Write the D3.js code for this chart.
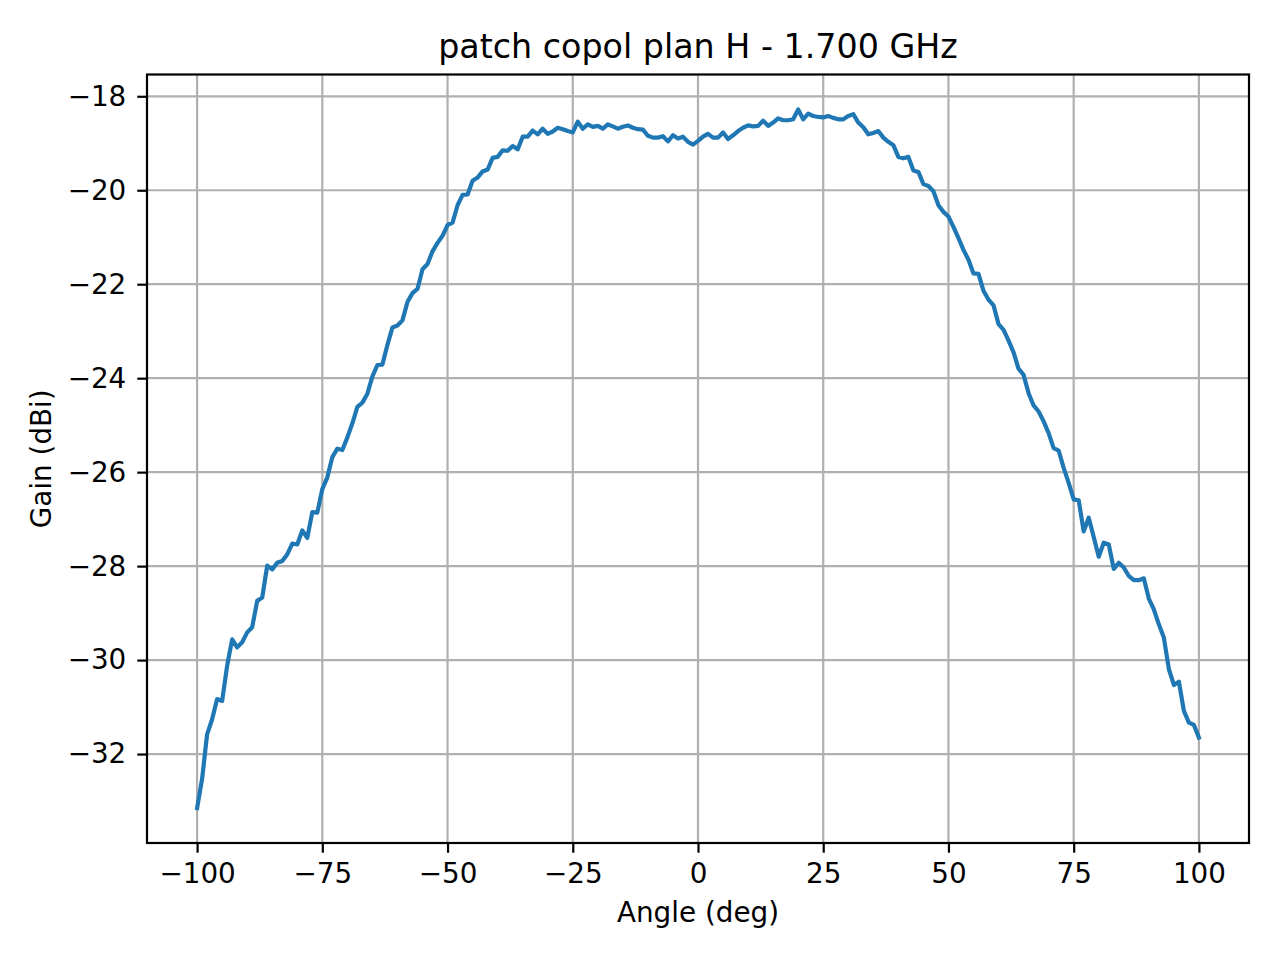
<!DOCTYPE html>
<html>
<head>
<meta charset="utf-8">
<script src="https://cdn.jsdelivr.net/npm/d3@7"></script>
<style>
  body { margin: 0; background: #fff; }
  svg { display: block; font-family: "DejaVu Sans", sans-serif; }
</style>
</head>
<body>
<div id="chart"></div>
<script>
// angle in degrees, one sample per degree
const angles = d3.range(-100, 101);

// measured gain (dBi), -100 .. 100 deg
const gain = [
  -33.15, -32.53, -31.58, -31.26, -30.83, -30.87, -30.12, -29.56, -29.73, -29.62,
  -29.41, -29.30, -28.74, -28.67, -27.99, -28.07, -27.93, -27.89, -27.75, -27.52,
  -27.54, -27.24, -27.40, -26.85, -26.86, -26.36, -26.11, -25.68, -25.50, -25.53,
  -25.26, -24.96, -24.61, -24.52, -24.33, -23.96, -23.72, -23.71, -23.29, -22.92,
  -22.88, -22.77, -22.38, -22.19, -22.10, -21.68, -21.57, -21.30, -21.12, -20.97,
  -20.74, -20.69, -20.32, -20.10, -20.09, -19.80, -19.73, -19.60, -19.56, -19.31,
  -19.29, -19.15, -19.16, -19.06, -19.13, -18.86, -18.86, -18.73, -18.81, -18.69,
  -18.80, -18.75, -18.67, -18.70, -18.74, -18.77, -18.54, -18.69, -18.60, -18.65,
  -18.63, -18.69, -18.60, -18.64, -18.69, -18.65, -18.62, -18.67, -18.70, -18.71,
  -18.84, -18.88, -18.88, -18.85, -18.96, -18.83, -18.90, -18.86, -18.97, -19.03,
  -18.95,
  -18.86, -18.80, -18.88, -18.88, -18.77, -18.91, -18.83, -18.74, -18.67, -18.62,
  -18.64, -18.63, -18.52, -18.63, -18.56, -18.47, -18.51, -18.51, -18.49, -18.28,
  -18.49, -18.37, -18.42, -18.44, -18.45, -18.42, -18.46, -18.49, -18.49, -18.42,
  -18.38, -18.56, -18.66, -18.81, -18.78, -18.74, -18.88, -18.97, -19.04, -19.29,
  -19.32, -19.29, -19.58, -19.61, -19.87, -19.91, -20.02, -20.32, -20.46, -20.56,
  -20.78, -21.02, -21.27, -21.48, -21.77, -21.78, -22.14, -22.33, -22.45, -22.85,
  -22.97, -23.20, -23.45, -23.80, -23.93, -24.32, -24.58, -24.71, -24.92, -25.17,
  -25.49, -25.54, -25.91, -26.23, -26.58, -26.60, -27.26, -26.97, -27.38, -27.80,
  -27.50, -27.54, -28.06, -27.93, -28.03, -28.21, -28.30, -28.30, -28.26, -28.69,
  -28.92, -29.24, -29.52, -30.19, -30.53, -30.46, -31.08, -31.33, -31.38, -31.65
];

const xTicks = [-100, -75, -50, -25, 0, 25, 50, 75, 100];
const yTicks = [-32, -30, -28, -26, -24, -22, -20, -18];

const title = "patch copol plan H - 1.700 GHz";
const xLabel = "Angle (deg)";
const yLabel = "Gain (dBi)";

const data = angles.map((a, i) => ({ angle: a, gain: gain[i] }));

const width = 1280,
  height = 960;
const margin = { top: 74.5, right: 31, bottom: 117, left: 147 };
const innerW = width - margin.left - margin.right;
const innerH = height - margin.top - margin.bottom;

const fontSize = 27.8;
const tickLen = 9.7;

// matplotlib-style 5% padding around data extent
function padded(extent) {
  const pad = (extent[1] - extent[0]) * 0.05;
  return [extent[0] - pad, extent[1] + pad];
}

const x = d3
  .scaleLinear()
  .domain(padded(d3.extent(angles)))
  .range([0, innerW]);
const y = d3
  .scaleLinear()
  .domain(padded(d3.extent(gain)))
  .range([innerH, 0]);

const svg = d3
  .select("#chart")
  .append("svg")
  .attr("width", width)
  .attr("height", height)
  .attr("viewBox", [0, 0, width, height]);

const g = svg
  .append("g")
  .attr("transform", `translate(${margin.left},${margin.top})`);

// grid
g.append("g")
  .attr("class", "grid")
  .call((grid) =>
    grid
      .selectAll("line.gx")
      .data(xTicks)
      .join("line")
      .attr("class", "gx")
      .attr("x1", (d) => x(d))
      .attr("x2", (d) => x(d))
      .attr("y1", 0)
      .attr("y2", innerH)
  )
  .call((grid) =>
    grid
      .selectAll("line.gy")
      .data(yTicks)
      .join("line")
      .attr("class", "gy")
      .attr("x1", 0)
      .attr("x2", innerW)
      .attr("y1", (d) => y(d))
      .attr("y2", (d) => y(d))
  )
  .selectAll("line")
  .attr("stroke", "#b0b0b0")
  .attr("stroke-width", 2.2);

// data line
const line = d3
  .line()
  .x((d) => x(d.angle))
  .y((d) => y(d.gain));

g.append("path")
  .datum(data)
  .attr("fill", "none")
  .attr("stroke", "#1f77b4")
  .attr("stroke-width", 4.2)
  .attr("stroke-linejoin", "round")
  .attr("stroke-linecap", "square")
  .attr("d", line);

// axes
const fmt = d3.format("d");

const xAxis = g
  .append("g")
  .attr("transform", `translate(0,${innerH})`)
  .call(
    d3
      .axisBottom(x)
      .tickValues(xTicks)
      .tickFormat(fmt)
      .tickSize(tickLen)
      .tickPadding(10.5)
  );

const yAxis = g
  .append("g")
  .call(
    d3
      .axisLeft(y)
      .tickValues(yTicks)
      .tickFormat(fmt)
      .tickSize(tickLen)
      .tickPadding(11)
  );

[xAxis, yAxis].forEach((ax) => {
  ax.select(".domain").remove();
  ax.selectAll(".tick line").attr("stroke", "#000").attr("stroke-width", 2.2);
  ax.selectAll(".tick text")
    .attr("fill", "#000")
    .attr("font-size", fontSize)
    .attr("font-family", "DejaVu Sans, sans-serif");
});

// spines
g.append("rect")
  .attr("width", innerW)
  .attr("height", innerH)
  .attr("fill", "none")
  .attr("stroke", "#000")
  .attr("stroke-width", 2.2);

// labels
svg
  .append("text")
  .attr("x", margin.left + innerW / 2)
  .attr("y", 58)
  .attr("text-anchor", "middle")
  .attr("font-size", 33.3)
  .text(title);

svg
  .append("text")
  .attr("x", margin.left + innerW / 2)
  .attr("y", 922)
  .attr("text-anchor", "middle")
  .attr("font-size", fontSize)
  .text(xLabel);

svg
  .append("text")
  .attr("transform", `translate(51,${margin.top + innerH / 2}) rotate(-90)`)
  .attr("text-anchor", "middle")
  .attr("font-size", fontSize)
  .text(yLabel);
</script>
</body>
</html>
